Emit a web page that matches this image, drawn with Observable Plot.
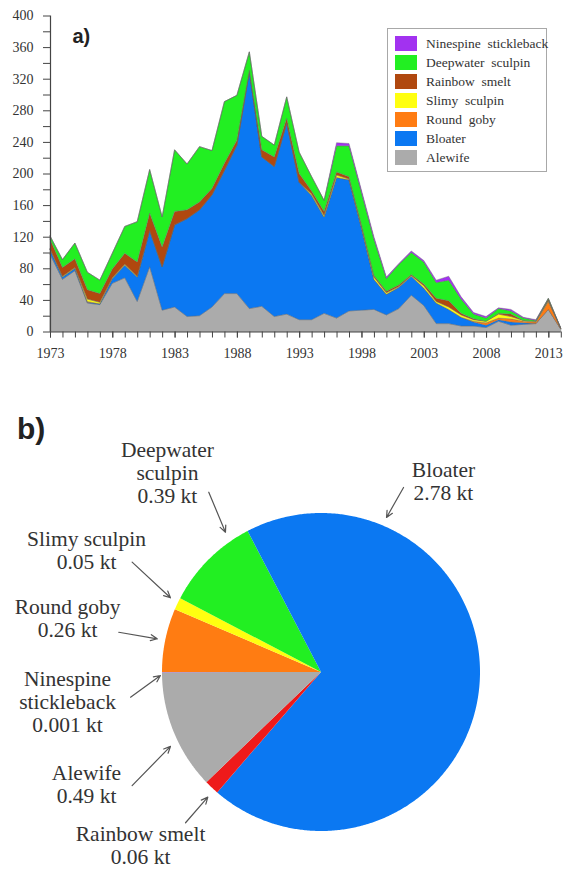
<!DOCTYPE html>
<html>
<head>
<meta charset="utf-8">
<script src="https://cdn.jsdelivr.net/npm/d3@7"></script>
<script src="https://cdn.jsdelivr.net/npm/@observablehq/plot@0.6"></script>
<style>
  html, body { margin: 0; padding: 0; background: #fff; }
  #page { position: relative; width: 565px; height: 869px; overflow: hidden; }
  #panelA, #panelB { position: relative; width: 565px; }
  #panelA svg, #panelB svg { display: block; }
  .legend {
    position: absolute; left: 387px; top: 28px; width: 160px; height: 144px;
    box-sizing: border-box; border: 1px solid #a8a8a8; background: #fff;
    font-family: "Liberation Serif", "Times New Roman", serif; font-size: 13.5px; color: #333;
  }
  .legend .row { position: absolute; left: 7px; height: 15px; display: flex; align-items: center; white-space: pre; }
  .legend .sw { width: 22px; height: 15px; margin-right: 9px; }
  .legend span { font-family: "Liberation Serif", "Times New Roman", serif; }
</style>
</head>
<body>
<div id="page">
  <div id="panelA"></div>
  <div id="panelB"></div>
</div>
<script>
// Annual biomass (kt) by species, 1973-2014, stacked bottom to top
const years = [1973, 1974, 1975, 1976, 1977, 1978, 1979, 1980, 1981, 1982,
               1983, 1984, 1985, 1986, 1987, 1988, 1989, 1990, 1991, 1992,
               1993, 1994, 1995, 1996, 1997, 1998, 1999, 2000, 2001, 2002,
               2003, 2004, 2005, 2006, 2007, 2008, 2009, 2010, 2011, 2012,
               2013, 2014];
const alewife    = [98, 66, 77, 36, 34, 61, 68, 38, 82, 27,
                    31, 19, 20, 31, 48, 48, 29, 32, 19, 22,
                    15, 15, 23, 17, 26, 27, 28, 21, 29, 46,
                    33, 10, 10, 7, 7, 5, 13, 8, 9, 10,
                    28, 3];
const bloater    = [6, 3, 3, 1, 1, 6, 16, 31, 46, 55,
                    104, 124, 134, 142, 156, 188, 300, 189, 190, 242,
                    174, 157, 122, 178, 166, 104, 38, 26, 27, 24,
                    22, 26, 18, 11, 5, 3, 2, 4, 2, 0,
                    0, 0];
const roundGoby  = [0, 0, 0, 1, 0, 0, 0, 0, 0, 0,
                    0, 0, 0, 0, 0, 0, 0, 0, 0, 0,
                    0, 0, 0, 0, 0, 0, 0, 0, 0, 0,
                    0, 0, 0, 0, 1, 3, 2, 4, 2, 2,
                    10, 1];
const slimy      = [1, 1, 1, 3, 2, 1, 1, 1, 0, 0,
                    0, 0, 0, 0, 0, 0, 0, 0, 0, 0,
                    0, 2, 2, 3, 1, 2, 3, 2, 1, 1,
                    3, 2, 3, 3, 2, 2, 5, 3, 1, 1,
                    1, 0];
const smelt      = [12, 11, 11, 12, 11, 11, 14, 18, 22, 25,
                    17, 11, 10, 8, 9, 6, 2, 9, 12, 6,
                    11, 4, 5, 4, 3, 2, 2, 2, 2, 1,
                    2, 4, 8, 2, 1, 0, 1, 3, 0, 0,
                    2, 0];
const deepwater  = [4, 10, 20, 22, 17, 20, 34, 51, 55, 38,
                    78, 58, 70, 48, 78, 57, 23, 17, 15, 27,
                    27, 18, 14, 33, 39, 41, 46, 16, 26, 28,
                    28, 20, 26, 18, 6, 4, 6, 4, 3, 1,
                    1, 0];
const ninespine  = [0, 0, 0, 0, 0, 0, 0, 0, 0, 0,
                    0, 0, 0, 0, 0, 0, 0, 0, 0, 0,
                    0, 0, 0, 4, 3, 3, 3, 2, 1, 2,
                    2, 3, 5, 3, 2, 2, 1, 2, 1, 1,
                    0, 0];

const stackSpecies = ["Alewife", "Bloater", "Round goby", "Slimy sculpin",
                      "Rainbow smelt", "Deepwater sculpin", "Ninespine stickleback"];
const stackSeries  = [alewife, bloater, roundGoby, slimy, smelt, deepwater, ninespine];
const stackColors  = ["#ababab", "#0b78f2", "#ff7c12", "#ffff10",
                      "#b0480f", "#22ef22", "#a232f0"];

// Axis ticks
const yMajor = [0, 40, 80, 120, 160, 200, 240, 280, 320, 360, 400];
const yMinor = [20, 60, 100, 140, 180, 220, 260, 300, 340, 380];
const xMajor = [1973, 1978, 1983, 1988, 1993, 1998, 2003, 2008, 2013];

// Average composition (kt), clockwise from the nine o'clock position
const pieSpecies = ["Round goby", "Slimy sculpin", "Deepwater sculpin", "Bloater",
                    "Rainbow smelt", "Alewife", "Ninespine stickleback"];
const pieKt      = [0.26, 0.05, 0.39, 2.78, 0.06, 0.49, 0.001];
const pieColors  = ["#ff7c12", "#ffff10", "#22ef22", "#0b78f2", "#ee1a1a", "#ababab", "#a232f0"];
const pieNames   = ["Round goby", "Slimy sculpin", "Deepwater\nsculpin", "Bloater",
                    "Rainbow smelt", "Alewife", "Ninespine\nstickleback"];

const serif = "Liberation Serif, Times New Roman, serif";
const sans = "Liberation Sans, Arial, sans-serif";

// ---- Panel a: stacked area ----
const rows = [];
stackSpecies.forEach((sp, i) => {
  years.forEach((yr, j) => rows.push({year: yr, species: sp, value: stackSeries[i][j]}));
});

const plotA = Plot.plot({
  width: 565,
  height: 380,
  marginLeft: 50,
  marginRight: 4.2,
  marginTop: 15.5,
  marginBottom: 48.5,
  style: {fontFamily: serif, fontSize: "14px", color: "#333", background: "transparent"},
  x: {domain: [1973, 2014], axis: null},
  y: {domain: [0, 400], axis: null},
  color: {domain: stackSpecies, range: stackColors},
  marks: [
    Plot.areaY(rows, {
      x: "year", y: "value", z: "species", fill: "species", order: stackSpecies,
      stroke: "#666", strokeOpacity: 0.55, strokeWidth: 0.7
    }),
    Plot.ruleX([1973], {stroke: "#444", strokeWidth: 1.2}),
    Plot.ruleY([0], {stroke: "#444", strokeWidth: 1.2}),
    Plot.axisY(yMajor, {tickSize: 7, tickPadding: 10, tickFormat: "d", stroke: "#444", fill: "#333",
                        label: null, fontSize: 14, fontFamily: serif}),
    Plot.axisY(yMinor, {tickSize: 7, stroke: "#444", fill: "none", label: null}),
    Plot.axisX(xMajor, {tickSize: 6, tickPadding: 10, tickFormat: "d", stroke: "#444", fill: "#333",
                        label: null, fontSize: 14, fontFamily: serif}),
    Plot.axisX(years, {tickSize: 6, stroke: "#444", fill: "none", label: null}),
    Plot.text(["a)"], {
      frameAnchor: "top-left", dx: 22, dy: 12.3,
      fontFamily: sans, fontWeight: "bold", fontSize: 20, fill: "#222"
    })
  ]
});
const panelA = document.getElementById("panelA");
panelA.appendChild(plotA);

// Legend: top entry is the top layer of the stack
const legend = document.createElement("div");
legend.className = "legend";
stackSpecies.slice().reverse().forEach((sp, k) => {
  const row = document.createElement("div");
  row.className = "row";
  row.style.top = (7 + k * 19) + "px";
  const sw = document.createElement("div");
  sw.className = "sw";
  sw.style.background = stackColors[stackSpecies.indexOf(sp)];
  const label = document.createElement("span");
  label.textContent = sp.replace(" ", "  ");
  row.appendChild(sw);
  row.appendChild(label);
  legend.appendChild(row);
});
panelA.appendChild(legend);

// ---- Panel b: pie ----
const R = 159, cx = 321, cy = 292, W = 565, H = 489;
const arcs = d3.pie().sort(null).startAngle(-Math.PI / 2).endAngle(3 * Math.PI / 2)(pieKt);
const slicePts = [];
arcs.forEach((a, i) => {
  const n = Math.max(2, Math.ceil((a.endAngle - a.startAngle) / (Math.PI / 360)));
  for (let k = 0; k <= n; k++) {
    const t = a.startAngle + (a.endAngle - a.startAngle) * k / n;
    slicePts.push({name: pieSpecies[i], x0: 0, y0: 0, x: Math.sin(t), y: Math.cos(t)});
  }
});

// Label blocks and leader arrows, in pie-radius units (y up)
const labelPos = {
  "Round goby":            {u: -1.597, v: 0.343,  tail: [-1.275, 0.253],  head: [-1.033, 0.212]},
  "Slimy sculpin":         {u: -1.478, v: 0.767,  tail: [-1.191, 0.694],  head: [-0.950, 0.470]},
  "Deepwater sculpin":     {u: -0.969, v: 1.258,  tail: [-0.709, 1.134],  head: [-0.604, 0.882]},
  "Bloater":               {u: 0.767,  v: 1.206,  tail: [0.516, 1.164],   head: [0.409, 0.975]},
  "Rainbow smelt":         {u: -1.138, v: -1.088, tail: [-0.855, -0.945], head: [-0.715, -0.784]},
  "Alewife":               {u: -1.478, v: -0.704, tail: [-1.191, -0.711], head: [-0.950, -0.465]},
  "Ninespine stickleback": {u: -1.597, v: -0.181, tail: [-1.201, -0.155], head: [-1.013, -0.019]}
};
const pieLabels = pieSpecies.map((sp, i) => ({
  u: labelPos[sp].u, v: labelPos[sp].v,
  text: `${pieNames[i]}\n${pieKt[i]} kt`
}));
const pieArrows = pieSpecies.map(sp => ({
  x1: labelPos[sp].tail[0], y1: labelPos[sp].tail[1],
  x2: labelPos[sp].head[0], y2: labelPos[sp].head[1]
}));

const plotB = Plot.plot({
  width: W,
  height: H,
  margin: 0,
  style: {fontFamily: serif, color: "#333", background: "transparent"},
  x: {domain: [-cx / R, (W - cx) / R], range: [0, W], axis: null},
  y: {domain: [-(H - cy) / R, cy / R], range: [H, 0], axis: null},
  color: {domain: pieSpecies, range: pieColors},
  marks: [
    Plot.area(slicePts, {x1: "x0", y1: "y0", x2: "x", y2: "y", z: "name", fill: "name"}),
    Plot.arrow(pieArrows, {x1: "x1", y1: "y1", x2: "x2", y2: "y2", stroke: "#555", strokeWidth: 1.2, headLength: 9, headAngle: 50}),
    Plot.text(pieLabels, {x: "u", y: "v", text: "text", fontSize: 21.5, lineHeight: 1.07, fill: "#333", fontFamily: serif}),
    Plot.text(["b)"], {
      frameAnchor: "top-left", dx: 16.5, dy: 36.7,
      fontFamily: sans, fontWeight: "bold", fontSize: 30, fill: "#222"
    })
  ]
});
document.getElementById("panelB").appendChild(plotB);
</script>
</body>
</html>
